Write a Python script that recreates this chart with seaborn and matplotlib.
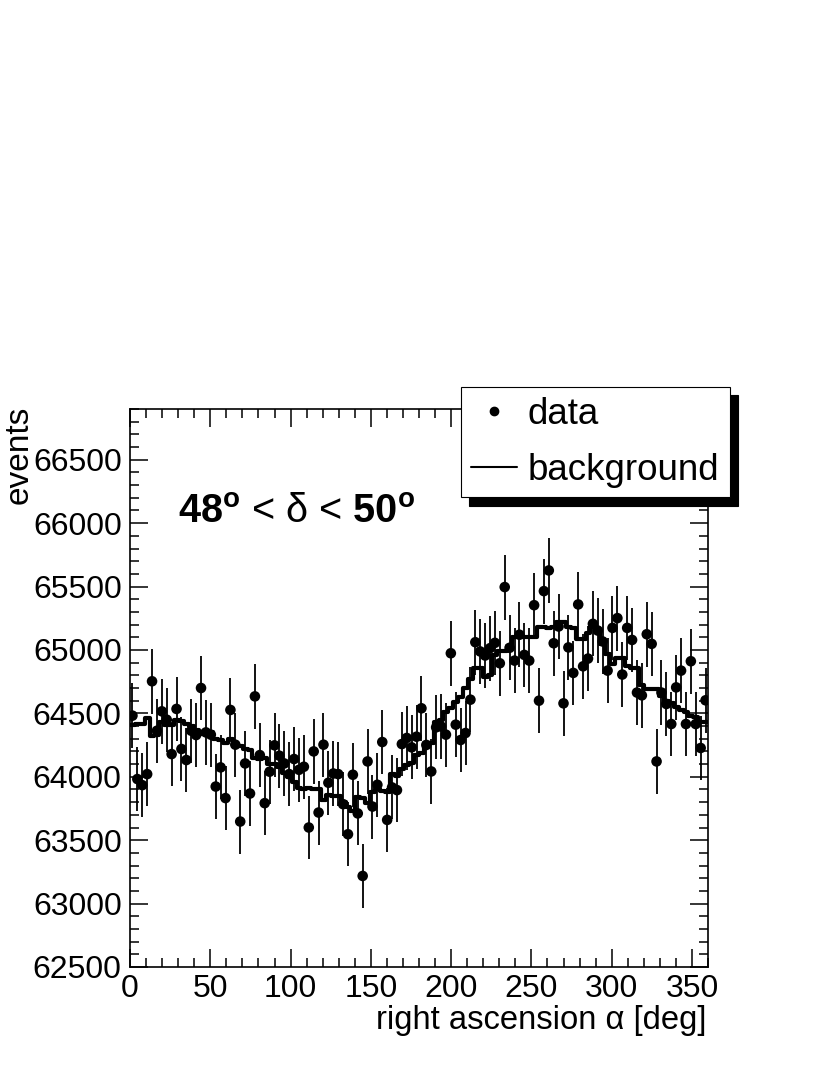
import numpy as np
import pandas as pd
import matplotlib
matplotlib.use("Agg")
import matplotlib.pyplot as plt
from matplotlib.lines import Line2D
from matplotlib.ticker import MultipleLocator, FormatStrFormatter
import seaborn as sns

# Cuentas por bin de ascension recta
data_counts = [
    64482, 63982, 63934, 64021, 64753, 64363, 64516, 64450, 64179, 64535,
    64219, 64132, 64363, 64329, 64700, 64350, 64332, 63923, 64074, 63832,
    64527, 64253, 63647, 64105, 63868, 64634, 64171, 63792, 64040, 64248,
    64166, 64105, 64021, 64140, 64055, 64079, 63600, 64200, 63718, 64253,
    63953, 64026, 64021, 63784, 63547, 64016, 63711, 63218, 64121, 63765,
    63937, 64274, 63660, 63916, 63895, 64258, 64306, 64232, 64316, 64540,
    64251, 64042, 64390, 64397, 64332, 64974, 64411, 64290, 64345, 64608,
    65061, 64988, 64956, 65014, 65056, 64895, 65496, 65017, 64916, 65120,
    64961, 64916, 65353, 64600, 65464, 65627, 65053, 65185, 64579, 65020,
    64819, 65359, 64871, 64932, 65206, 65153, 65067, 64837, 65174, 65251,
    64806, 65174, 65079, 64664, 64642, 65124, 65048, 64121, 64664, 64574,
    64416, 64705, 64837, 64416, 64911, 64416, 64227, 64603,
]

# Fondo esperado (histograma escalonado)
background = [
    64410, 64420, 64420, 64460, 64320, 64330, 64430, 64410, 64410, 64450,
    64440, 64420, 64400, 64370, 64340, 64360, 64350, 64300, 64290, 64270,
    64300, 64250, 64240, 64220, 64210, 64150, 64140, 64150, 64100, 64100,
    64080, 64030, 64000, 63960, 63910, 63900, 63910, 63900, 63900, 63820,
    63860, 63850, 63850, 63800, 63760, 63730, 63840, 63830, 63790, 63880,
    63900, 63890, 63880, 64020, 64010, 64060, 64090, 64110, 64170, 64190,
    64270, 64270, 64430, 64450, 64510, 64540, 64590, 64630, 64700, 64770,
    64860, 64860, 64790, 64800, 64960, 64995, 64995, 65030, 65100, 65100,
    65100, 65100, 65100, 65180, 65180, 65170, 65180, 65220, 65220, 65180,
    65170, 65090, 65090, 65130, 65180, 65150, 65050, 64970, 64890, 64940,
    64940, 64870, 64860, 64860, 64720, 64690, 64690, 64690, 64640, 64600,
    64580, 64550, 64530, 64510, 64480, 64470, 64430, 64430,
]

legend_labels = ["data", "background"]

n_bins = len(data_counts)
edges = np.linspace(0, 360, n_bins + 1)
centers = 0.5 * (edges[:-1] + edges[1:])
errors = np.sqrt(np.array(data_counts, dtype=float))

sns.set_theme(style="ticks")
plt.rcParams["font.family"] = ["Liberation Sans", "DejaVu Sans"]
plt.rcParams["mathtext.fontset"] = "custom"
plt.rcParams["mathtext.rm"] = "Liberation Sans"
plt.rcParams["mathtext.bf"] = "Liberation Sans:bold"
plt.rcParams["mathtext.it"] = "Liberation Sans:italic"
for key in ["text.color", "axes.labelcolor", "xtick.color", "ytick.color",
            "axes.edgecolor"]:
    plt.rcParams[key] = "black"

fig = plt.figure(figsize=(8.3, 10.75), dpi=100)
ax = fig.add_axes([130 / 830, 1 - 967 / 1075, 578 / 830, 558 / 1075])

# Histograma de fondo
step_df = pd.DataFrame({"ra": edges, "bkg": list(background) + [background[-1]]})
sns.lineplot(data=step_df, x="ra", y="bkg", drawstyle="steps-post", color="black",
             lw=3.0, estimator=None, sort=False, ax=ax)

# Datos con barras de error
ax.errorbar(centers, data_counts, yerr=errors, fmt="none", ecolor="black",
            elinewidth=1.3, capsize=0, zorder=2)
pts = pd.DataFrame({"ra": centers, "events": data_counts})
sns.scatterplot(data=pts, x="ra", y="events", color="black", s=58,
                edgecolor="none", ax=ax, zorder=3)

ax.set_xlim(0, 360)
ax.set_ylim(62500, 66900)
ax.set_xlabel("")
ax.set_ylabel("")
ax.xaxis.set_major_locator(MultipleLocator(50))
ax.xaxis.set_minor_locator(MultipleLocator(10))
ax.yaxis.set_major_locator(MultipleLocator(500))
ax.yaxis.set_minor_locator(MultipleLocator(100))
ax.yaxis.set_major_formatter(FormatStrFormatter("%d"))
ax.tick_params(which="both", direction="in", top=True, right=True,
               colors="black", labelcolor="black", width=1.1, labelsize=23)
ax.tick_params(which="major", length=13)
ax.tick_params(which="minor", length=6.5)
ax.tick_params(axis="y", pad=6)
ax.tick_params(axis="x", pad=5)
for sp in ax.spines.values():
    sp.set_linewidth(1.2)
    sp.set_color("black")

ax.text(30, 66005, r"$\mathbf{48^{o}}$ < δ < $\mathbf{50^{o}}$",
        fontsize=28.5, va="baseline", ha="left", color="black")

fig.text(706 / 830, 1 - 1020 / 1075, "right ascension α [deg]",
         ha="right", va="center", fontsize=23.6, color="black")
fig.text(19 / 830, 1 - 406 / 1075, "events", rotation=90,
         ha="center", va="top", fontsize=24, color="black")

handles = [Line2D([], [], marker="o", ls="none", color="black", ms=6),
           Line2D([], [], color="black", lw=1.5)]
leg = fig.legend(handles, legend_labels, loc="upper left",
                 bbox_to_anchor=(461 / 830, 1 - 387 / 1075), borderaxespad=0,
                 fontsize=26.5, handlelength=1.25, handletextpad=0.3,
                 borderpad=0.27, labelspacing=0.56, fancybox=False,
                 edgecolor="black", facecolor="white", framealpha=1,
                 shadow={"ox": 6, "oy": -6, "color": "black", "alpha": 1})
leg.get_frame().set_linewidth(0.8)
for t in leg.get_texts():
    t.set_color("black")

fig.savefig("out.png", dpi=100)
